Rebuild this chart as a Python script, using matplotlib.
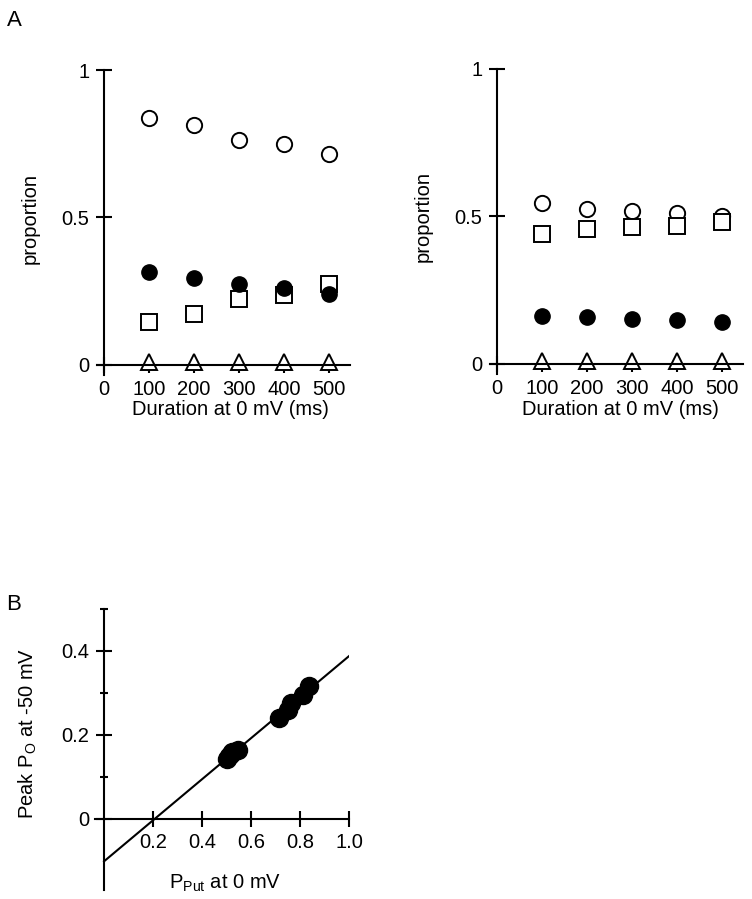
import numpy as np
import matplotlib
matplotlib.use("Agg")
import matplotlib.pyplot as plt

plt.rcParams["font.family"] = ["Liberation Sans", "DejaVu Sans"]
plt.rcParams["font.size"] = 14.5

# data
durations = [100, 200, 300, 400, 500]

left_open_circ = [0.837, 0.813, 0.763, 0.749, 0.715]
left_filled_circ = [0.316, 0.294, 0.275, 0.260, 0.240]
left_square = [0.145, 0.172, 0.224, 0.237, 0.275]
left_triangle = [0.01, 0.01, 0.01, 0.01, 0.01]

right_open_circ = [0.546, 0.524, 0.518, 0.511, 0.503]
right_filled_circ = [0.164, 0.159, 0.154, 0.149, 0.143]
right_square = [0.440, 0.458, 0.464, 0.469, 0.480]
right_triangle = [0.01, 0.01, 0.01, 0.01, 0.01]

W, H = 752, 899
FS = 14.5


def px_axes(fig, x0, x1, y_top, y_bot):
    "add axes using pixel coordinates of the figure"
    return fig.add_axes([x0 / W, (H - y_bot) / H, (x1 - x0) / W, (y_bot - y_top) / H])


def style_axes(ax):
    for s in ["top", "right"]:
        ax.spines[s].set_visible(False)
    ax.spines["left"].set_position(("data", 0))
    ax.spines["bottom"].set_position(("data", 0))
    for s in ["left", "bottom"]:
        ax.spines[s].set_linewidth(1.5)
    ax.tick_params(direction="inout", length=11, width=1.5, pad=5, labelsize=FS)
    ax.tick_params(which="minor", direction="inout", length=6, width=1.5)


def panel_a(ax, open_c, filled_c, square, triangle):
    style_axes(ax)
    ax.plot(durations, open_c, "o", ms=11, mfc="white", mec="black", mew=1.4, ls="none")
    ax.plot(durations, square, "s", ms=11, mfc="white", mec="black", mew=1.4, ls="none")
    ax.plot(durations, filled_c, "o", ms=11, mfc="black", mec="black", ls="none")
    ax.plot(durations, triangle, "^", ms=11, mfc="white", mec="black", mew=1.4, ls="none",
            clip_on=False)
    ax.set_xlim(-15.5, 547)
    ax.set_ylim(-0.034, 1.0)
    ax.set_xticks([0, 100, 200, 300, 400, 500])
    ax.set_yticks([0, 0.5, 1])
    ax.set_yticklabels(["0", "0.5", "1"])
    ax.spines["left"].set_bounds(-0.034, 1.0)


fig = plt.figure(figsize=(W / 100, H / 100), dpi=100)

ax1 = px_axes(fig, 97, 350, 70, 375)
panel_a(ax1, left_open_circ, left_filled_circ, left_square, left_triangle)
fig.text(30 / W, 1 - 218 / H, "proportion", rotation=90, ha="center", va="center", fontsize=FS)
fig.text(230 / W, 1 - 409 / H, "Duration at 0 mV (ms)", ha="center", va="center", fontsize=FS)

ax2 = px_axes(fig, 490, 743, 69, 374)
panel_a(ax2, right_open_circ, right_filled_circ, right_square, right_triangle)
fig.text(423 / W, 1 - 217 / H, "proportion", rotation=90, ha="center", va="center", fontsize=FS)
fig.text(620 / W, 1 - 409 / H, "Duration at 0 mV (ms)", ha="center", va="center", fontsize=FS)

# panel B: peak Po vs P_put, pairs from panel A
p_put = np.array(left_open_circ + right_open_circ)
peak_po = np.array(left_filled_circ + right_filled_circ)
slope, icpt = np.polyfit(p_put, peak_po, 1)

ax3 = px_axes(fig, 95, 349, 609, 890)
style_axes(ax3)
fit_x = np.array([0.0, 1.0])
ax3.plot(fit_x, icpt + slope * fit_x, color="black", lw=1.5)
ax3.plot(p_put, peak_po, "o", ms=13, color="black", ls="none")
ax3.set_xlim(-0.037, 1.0)
ax3.set_ylim(-0.17, 0.5)
ax3.set_xticks([0.2, 0.4, 0.6, 0.8, 1.0])
ax3.set_xticklabels(["0.2", "0.4", "0.6", "0.8", "1.0"])
ax3.set_yticks([0, 0.2, 0.4])
ax3.set_yticklabels(["0", "0.2", "0.4"])
ax3.set_yticks([0.1, 0.3, 0.5], minor=True)
ax3.spines["bottom"].set_bounds(-0.037, 1.0)
ax3.spines["left"].set_bounds(-0.17, 0.5)
fig.text(28 / W, 1 - 733 / H, "Peak P$_\\mathregular{O}$ at -50 mV", rotation=90,
         ha="center", va="center", fontsize=FS)
fig.text(225 / W, 1 - 883 / H, "P$_\\mathregular{Put}$ at 0 mV", ha="center", va="center",
         fontsize=FS)

fig.text(14 / W, 1 - 20 / H, "A", ha="center", va="center", fontsize=16)
fig.text(14 / W, 1 - 604 / H, "B", ha="center", va="center", fontsize=16)

fig.savefig("out.png", dpi=100)
